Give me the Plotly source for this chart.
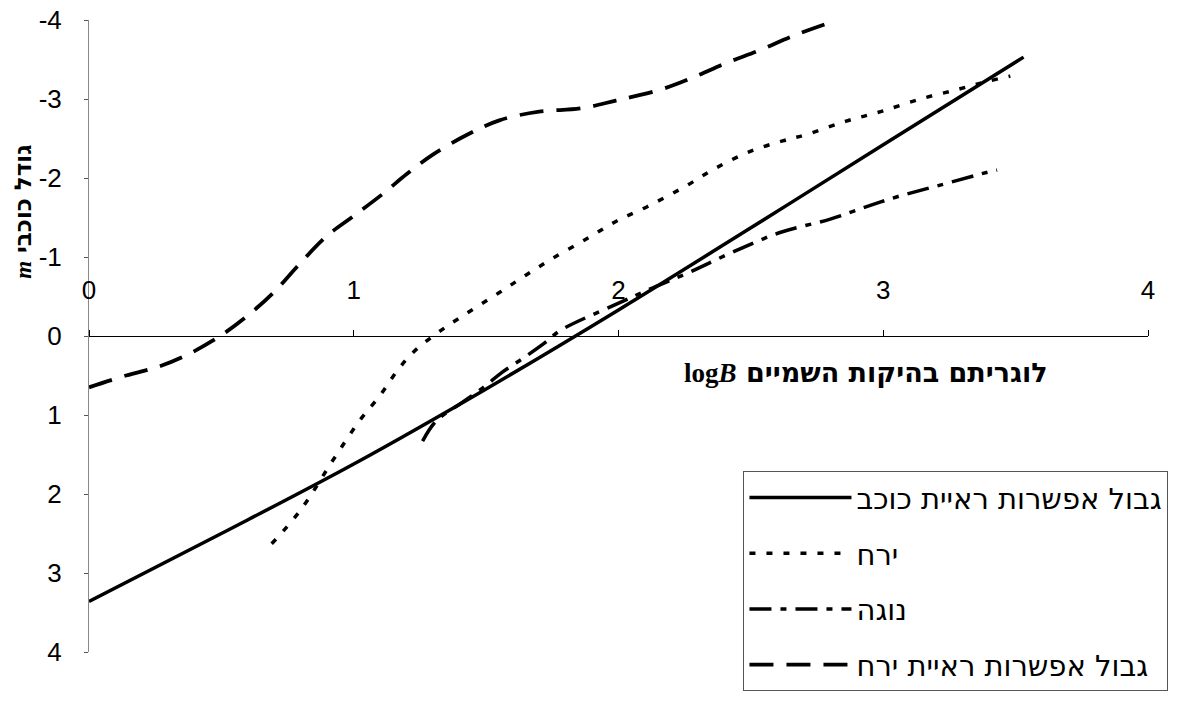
import plotly.graph_objects as go

# Data
star_x = [0, 0.5, 1.0, 1.5, 2.0, 2.5, 3.0, 3.53]
star_y = [3.36, 2.50, 1.62, 0.67, -0.33, -1.37, -2.42, -3.53]

moon_x = [0.69, 0.8, 0.92, 1.02, 1.1, 1.16, 1.22, 1.3, 1.4, 1.55, 1.65, 1.75, 1.88, 1.99,
          2.11, 2.25, 2.37, 2.5, 2.62, 2.71, 2.86, 2.99, 3.14, 3.28, 3.39, 3.48]
moon_y = [2.63, 2.2, 1.58, 1.08, 0.75, 0.46, 0.22, 0.0, -0.23, -0.55, -0.77, -0.98, -1.23, -1.45,
          -1.64, -1.89, -2.13, -2.34, -2.47, -2.55, -2.72, -2.84, -3.0, -3.12, -3.22, -3.29]

venus_x = [1.26, 1.31, 1.41, 1.49, 1.56, 1.64, 1.72, 1.78, 1.99, 2.13, 2.27, 2.43, 2.61, 2.80, 2.94,
           3.05, 3.215, 3.39, 3.43]
venus_y = [1.33, 1.08, 0.84, 0.65, 0.46, 0.28, 0.09, -0.07, -0.40, -0.61, -0.81, -1.06, -1.31, -1.48,
           -1.64, -1.76, -1.91, -2.07, -2.10]

limit_x = [0, 0.14, 0.27, 0.37, 0.495, 0.6, 0.7, 0.8, 0.9, 1.0, 1.11, 1.2, 1.3, 1.43,
           1.55, 1.7, 1.855, 1.99, 2.16, 2.28, 2.41, 2.535, 2.66, 2.81]
limit_y = [0.65, 0.5, 0.38, 0.24, 0.0, -0.26, -0.56, -0.93, -1.27, -1.52, -1.8, -2.05, -2.3, -2.55,
           -2.73, -2.84, -2.88, -2.98, -3.12, -3.27, -3.46, -3.62, -3.8, -3.98]

names = ["גבול אפשרות ראיית כוכב", "ירח", "נוגה", "גבול אפשרות ראיית ירח"]

x_ticks = [0, 1, 2, 3, 4]
y_ticks = [-4, -3, -2, -1, 0, 1, 2, 3, 4]

fig = go.Figure()
fig.add_trace(go.Scatter(x=star_x, y=star_y, name=names[0], mode="lines", legendgroup="a",
                         line=dict(color="black", width=3.5, shape="spline")))
fig.add_trace(go.Scatter(x=moon_x, y=moon_y, name=names[1], mode="lines", legendgroup="b",
                         line=dict(color="black", width=3.5, shape="spline", dash="6px,11px")))
fig.add_trace(go.Scatter(x=venus_x, y=venus_y, name=names[2], mode="lines", legendgroup="c",
                         line=dict(color="black", width=3.5, shape="spline", dash="22px,9px,6px,9px")))
fig.add_trace(go.Scatter(x=limit_x, y=limit_y, name=names[3], mode="lines", legendgroup="d",
                         line=dict(color="black", width=3.8, shape="spline", dash="24px,13px")))

# the page body adds an 8px offset, so the figure is 8px smaller than the window
fig.update_layout(
    width=1175, height=695,
    margin=dict(l=81, r=35, t=12, b=36),
    paper_bgcolor="white", plot_bgcolor="white",
    font=dict(family="Liberation Sans, Arial", size=24, color="black"),
    xaxis=dict(range=[0, 4], tickvals=x_ticks, ticktext=[str(v) for v in x_ticks],
               anchor="free", position=0.5, side="top", automargin=False,
               showline=True, linecolor="black", linewidth=1.2,
               ticks="outside", ticklen=6, tickcolor="black",
               ticklabelstandoff=21, showgrid=False, zeroline=False,
               ticklabeloverflow="allow", tickfont=dict(size=26)),
    yaxis=dict(range=[4, -4], tickvals=y_ticks, ticktext=[str(v) for v in y_ticks],
               showline=True, linecolor="#888", linewidth=1, automargin=False,
               ticks="outside", ticklen=4, tickcolor="#555",
               ticklabelstandoff=17, showgrid=False, zeroline=False,
               ticklabeloverflow="allow", tickfont=dict(size=26)),
    legend=dict(x=0.618, y=0.286, xanchor="left", yanchor="top",
                bordercolor="#555", borderwidth=1, bgcolor="white",
                font=dict(family="DejaVu Sans", size=29),
                traceorder="grouped", tracegroupgap=15, itemwidth=102),
    showlegend=True,
)

fig.add_annotation(x=3.63, y=0.46, xref="x", yref="y", xanchor="right", yanchor="middle",
                   text=("<b><span style='font-family:Liberation Serif'>log<i>B</i></span> "
                         "<span style='font-family:DejaVu Sans'>לוגריתם בהיקות השמיים</span></b>"),
                   showarrow=False, font=dict(family="DejaVu Sans", size=27, color="black"))
fig.add_annotation(x=-0.062, y=0.697, xref="paper", yref="paper", xanchor="center", yanchor="middle",
                   text=("<b><span style='font-family:Liberation Serif'><i>m</i></span> "
                         "<span style='font-family:DejaVu Sans'>גודל כוכבי</span></b>"),
                   showarrow=False, textangle=-90,
                   font=dict(family="DejaVu Sans", size=23, color="black"))

fig.write_html("out.html")
